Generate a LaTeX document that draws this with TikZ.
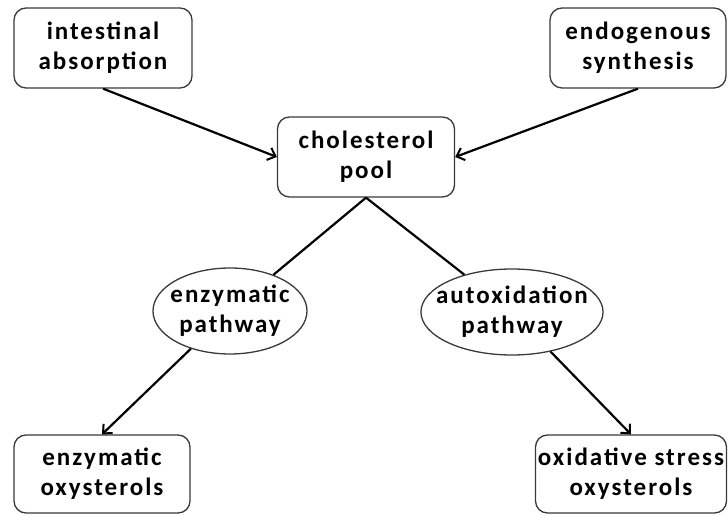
\documentclass[tikz,border=0pt]{standalone}
\usepackage{fontspec}
\setmainfont{Carlito}[LetterSpace=8]
\usetikzlibrary{positioning}
\usetikzlibrary{shapes.geometric}
\usetikzlibrary{arrows.meta}
\definecolor{boxgray}{HTML}{3a3a3a}

\begin{document}
\begin{tikzpicture}[x=1pt,y=1pt,
    box/.style={draw=boxgray, line width=1.3pt, rounded corners=12pt, fill=white,
      align=center, inner sep=0pt, font=\bfseries\fontsize{25}{30}\selectfont},
    pathway/.style={ellipse, draw=boxgray, line width=1.3pt, fill=white,
      align=center, inner sep=0pt, font=\bfseries\fontsize{25}{30}\selectfont},
    arr/.style={line width=2.2pt, -{Straight Barb[length=7pt,width=13pt,line width=2pt]}}]
  \useasboundingbox (0,0) rectangle (728,514);

  \node[box, minimum width=178pt, minimum height=80pt] (absorp) at (103,466) {intestinal\\absorption};
  \node[box, minimum width=176pt, minimum height=80pt] (synth) at (638,466) {endogenous\\synthesis};
  \node[box, minimum width=177pt, minimum height=80pt] (pool) at (366,357) {cholesterol\\pool};

  % ellipses hug their text, as in the figure
  \node[pathway, inner xsep=-6pt, minimum width=154pt, minimum height=86pt] (enzpath) at (230,203) {enzymatic\\pathway};
  \node[pathway, inner xsep=-11.5pt, minimum width=179pt, minimum height=86pt] (autox) at (512,202) {autoxidation\\pathway};

  \node[box, minimum width=176pt, minimum height=78pt] (enzoxy) at (102,40) {enzymatic\\oxysterols};
  \node[box, minimum width=191pt, minimum height=78pt] (oxistress) at (631,40) {oxidative stress\\oxysterols};

  \draw[arr] (absorp.south) -- (pool.west);
  \draw[arr] (synth.south) -- (pool.east);

  \draw[line width=2.2pt] (pool.south) -- (enzpath);
  \draw[line width=2.2pt] (pool.south) -- (autox);

  \draw[arr] (enzpath) -- (enzoxy.north);
  \draw[arr] (autox) -- (oxistress.north);
\end{tikzpicture}
\end{document}
